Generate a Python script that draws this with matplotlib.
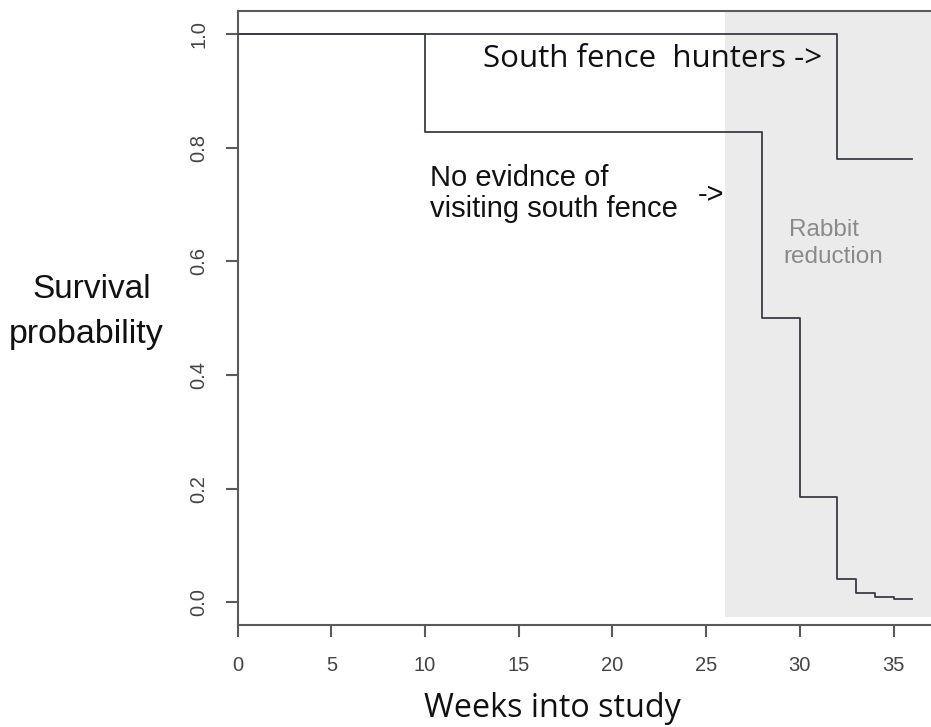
import matplotlib
matplotlib.use("Agg")
import matplotlib.pyplot as plt
from matplotlib.patches import Rectangle

# Kaplan-Meier style step curves (weeks, survival)
hunters_weeks = [0, 32, 36]
hunters_surv = [1.0, 0.78, 0.78]

other_weeks = [0, 10, 28, 30, 32, 33, 34, 35, 36]
other_surv = [1.0, 0.828, 0.5, 0.186, 0.042, 0.017, 0.009, 0.006, 0.006]

reduction_start = 26
xticks = [0, 5, 10, 15, 20, 25, 30, 35]
yticks = [0.0, 0.2, 0.4, 0.6, 0.8, 1.0]

W, H = 931, 727
fig = plt.figure(figsize=(W / 100, H / 100), dpi=100)
ax = fig.add_axes([237.7 / W, (H - 625.2) / H, 1 - 237.7 / W, (625.2 - 11.3) / H])
ax.set_xlim(0, 37)
ax.set_ylim(-0.04, 1.04)

arial = "Liberation Sans"
calib = "Open Sans"
line_col = "#3a3d46"
axis_col = "#5a5a5a"

# shaded period
ax.add_patch(Rectangle((reduction_start, -0.025), 40, 1.2, facecolor="#ebebeb",
                       edgecolor="none", zorder=0))

ax.step(hunters_weeks, hunters_surv, where="post", color=line_col, lw=1.3, zorder=3)
ax.step(other_weeks, other_surv, where="post", color=line_col, lw=1.3, zorder=3)

for s in ["left", "bottom", "top"]:
    ax.spines[s].set_color(axis_col)
    ax.spines[s].set_linewidth(1.5)
ax.spines["right"].set_visible(False)

ax.set_xticks(xticks)
ax.set_xticklabels([str(t) for t in xticks], family=arial, fontsize=14.5, color="#444444")
ax.set_yticks(yticks)
ax.set_yticklabels(["%.1f" % t for t in yticks], family=arial, fontsize=14.5,
                   color="#444444", rotation=90, va="center")
ax.tick_params(axis="x", length=8.6, width=1.5, color=axis_col, pad=13.7)
ax.tick_params(axis="y", length=8.6, width=1.5, color=axis_col, pad=12.7)

# annotations
ax.text(13.08, 0.9425, "South fence  hunters ->", family=calib, fontsize=22.5,
        va="baseline", ha="left", color="#111111")
ax.text(10.26, 0.7326, "No evidnce of", family=arial, fontsize=21,
        va="baseline", ha="left", color="#111111")
ax.text(10.26, 0.6781, "visiting south fence", family=arial, fontsize=21,
        va="baseline", ha="left", color="#111111")
ax.text(25.24, 0.702, "->", family=arial, fontsize=21,
        va="baseline", ha="center", color="#111111")
ax.text(31.30, 0.644, "Rabbit", family=arial, fontsize=17.5,
        va="baseline", ha="center", color="#8a8a8a")
ax.text(31.80, 0.597, "reduction", family=arial, fontsize=17.5,
        va="baseline", ha="center", color="#8a8a8a")

# axis titles
fig.text(92 / W, (H - 298) / H, "Survival", family=arial, fontsize=24,
         ha="center", va="baseline", color="#111111")
fig.text(86 / W, (H - 343) / H, "probability", family=arial, fontsize=24.5,
         ha="center", va="baseline", color="#111111")
fig.text(552 / W, (H - 717) / H, "Weeks into study", family=calib, fontsize=23.3,
         ha="center", va="baseline", color="#111111")

fig.savefig("out.png", dpi=100)
